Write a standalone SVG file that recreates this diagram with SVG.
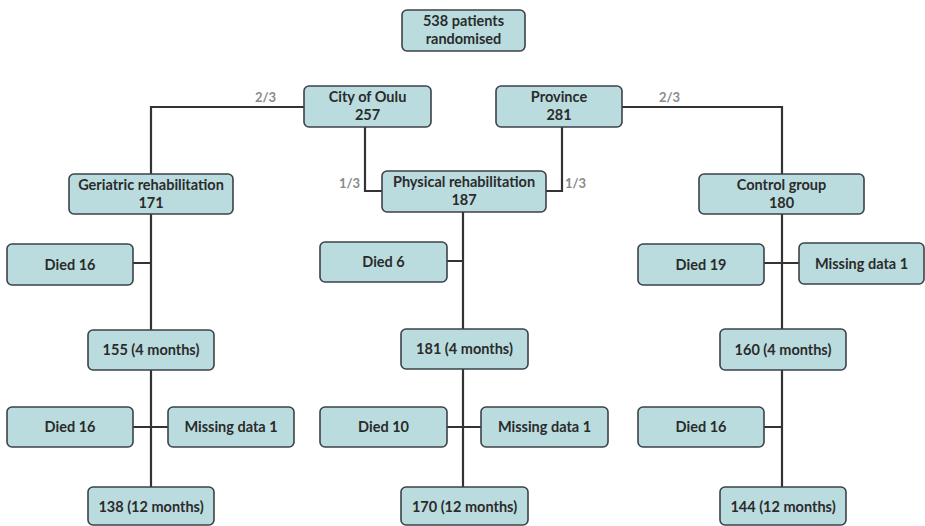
<svg xmlns="http://www.w3.org/2000/svg" width="925" height="526" viewBox="0 0 925 526">
<style>
.b rect{fill:#badcdf;stroke:#3b4248;stroke-width:1.6}
.b text{font-family:Lato,"Open Sans","Liberation Sans",sans-serif;font-weight:bold;font-size:14.5px;fill:#2b2b2b;text-anchor:middle}
.c{fill:none;stroke:#333;stroke-width:2.2}
.f{font-family:Lato,"Liberation Sans",sans-serif;font-weight:bold;font-size:13px;fill:#8a8a8a}
</style>
<rect width="925" height="526" fill="#fff"/>
<g id="connectors">
<path class="c" d="M304 107H151V174"/>
<path class="c" d="M622 107H782V174"/>
<path class="c" d="M365 127V191H382"/>
<path class="c" d="M562 127V191H546"/>
<path class="c" d="M151 214V487M133 263H151M133 427H168"/>
<path class="c" d="M463 212V487M447 261H463M447 427H481"/>
<path class="c" d="M782 214V487M764 263H799M764 427H782"/>
<text class="f" x="255" y="102">2/3</text>
<text class="f" x="659" y="102">2/3</text>
<text class="f" x="339" y="188">1/3</text>
<text class="f" x="565" y="188">1/3</text>
</g>
<g id="n_rand" class="b"><rect x="402" y="10" width="123" height="41" rx="5"/><text x="463.5" y="26">538 patients</text><text x="463.5" y="44">randomised</text></g>
<g id="n_oulu" class="b"><rect x="304" y="86" width="127" height="41" rx="5"/><text x="367.5" y="102">City of Oulu</text><text x="367.5" y="120">257</text></g>
<g id="n_prov" class="b"><rect x="496" y="86" width="126" height="41" rx="5"/><text x="559" y="102">Province</text><text x="559" y="120">281</text></g>
<g id="n_ger" class="b"><rect x="69" y="174" width="164" height="40" rx="5"/><text x="151" y="190">Geriatric rehabilitation</text><text x="151" y="208">171</text></g>
<g id="n_phys" class="b"><rect x="382" y="171" width="164" height="41" rx="5"/><text x="464" y="187">Physical rehabilitation</text><text x="464" y="205">187</text></g>
<g id="n_ctrl" class="b"><rect x="699" y="174" width="165" height="40" rx="5"/><text x="781.5" y="190">Control group</text><text x="781.5" y="208">180</text></g>
<g id="n_gd1" class="b"><rect x="7" y="244" width="126" height="41" rx="5"/><text x="70" y="270">Died 16</text></g>
<g id="n_pd1" class="b"><rect x="320" y="242" width="127" height="40" rx="5"/><text x="383.5" y="267">Died 6</text></g>
<g id="n_cd1" class="b"><rect x="638" y="244" width="126" height="41" rx="5"/><text x="701" y="270">Died 19</text></g>
<g id="n_cm1" class="b"><rect x="799" y="243" width="125" height="41" rx="5"/><text x="861.5" y="269">Missing data 1</text></g>
<g id="n_g4" class="b"><rect x="88" y="330" width="126" height="40" rx="5"/><text x="151" y="355">155 (4 months)</text></g>
<g id="n_p4" class="b"><rect x="401" y="329" width="127" height="40" rx="5"/><text x="464.5" y="354">181 (4 months)</text></g>
<g id="n_c4" class="b"><rect x="720" y="329" width="126" height="41" rx="5"/><text x="783" y="355">160 (4 months)</text></g>
<g id="n_gd2" class="b"><rect x="7" y="407" width="126" height="40" rx="5"/><text x="70" y="432">Died 16</text></g>
<g id="n_gm2" class="b"><rect x="168" y="407" width="126" height="40" rx="5"/><text x="231" y="432">Missing data 1</text></g>
<g id="n_pd2" class="b"><rect x="320" y="407" width="127" height="40" rx="5"/><text x="383.5" y="432">Died 10</text></g>
<g id="n_pm2" class="b"><rect x="481" y="407" width="127" height="40" rx="5"/><text x="544.5" y="432">Missing data 1</text></g>
<g id="n_cd2" class="b"><rect x="638" y="407" width="126" height="40" rx="5"/><text x="701" y="432">Died 16</text></g>
<g id="n_g12" class="b"><rect x="88" y="487" width="126" height="38" rx="5"/><text x="151" y="512">138 (12 months)</text></g>
<g id="n_p12" class="b"><rect x="401" y="487" width="127" height="38" rx="5"/><text x="464.5" y="512">170 (12 months)</text></g>
<g id="n_c12" class="b"><rect x="720" y="487" width="126" height="38" rx="5"/><text x="783" y="512">144 (12 months)</text></g>
</svg>
